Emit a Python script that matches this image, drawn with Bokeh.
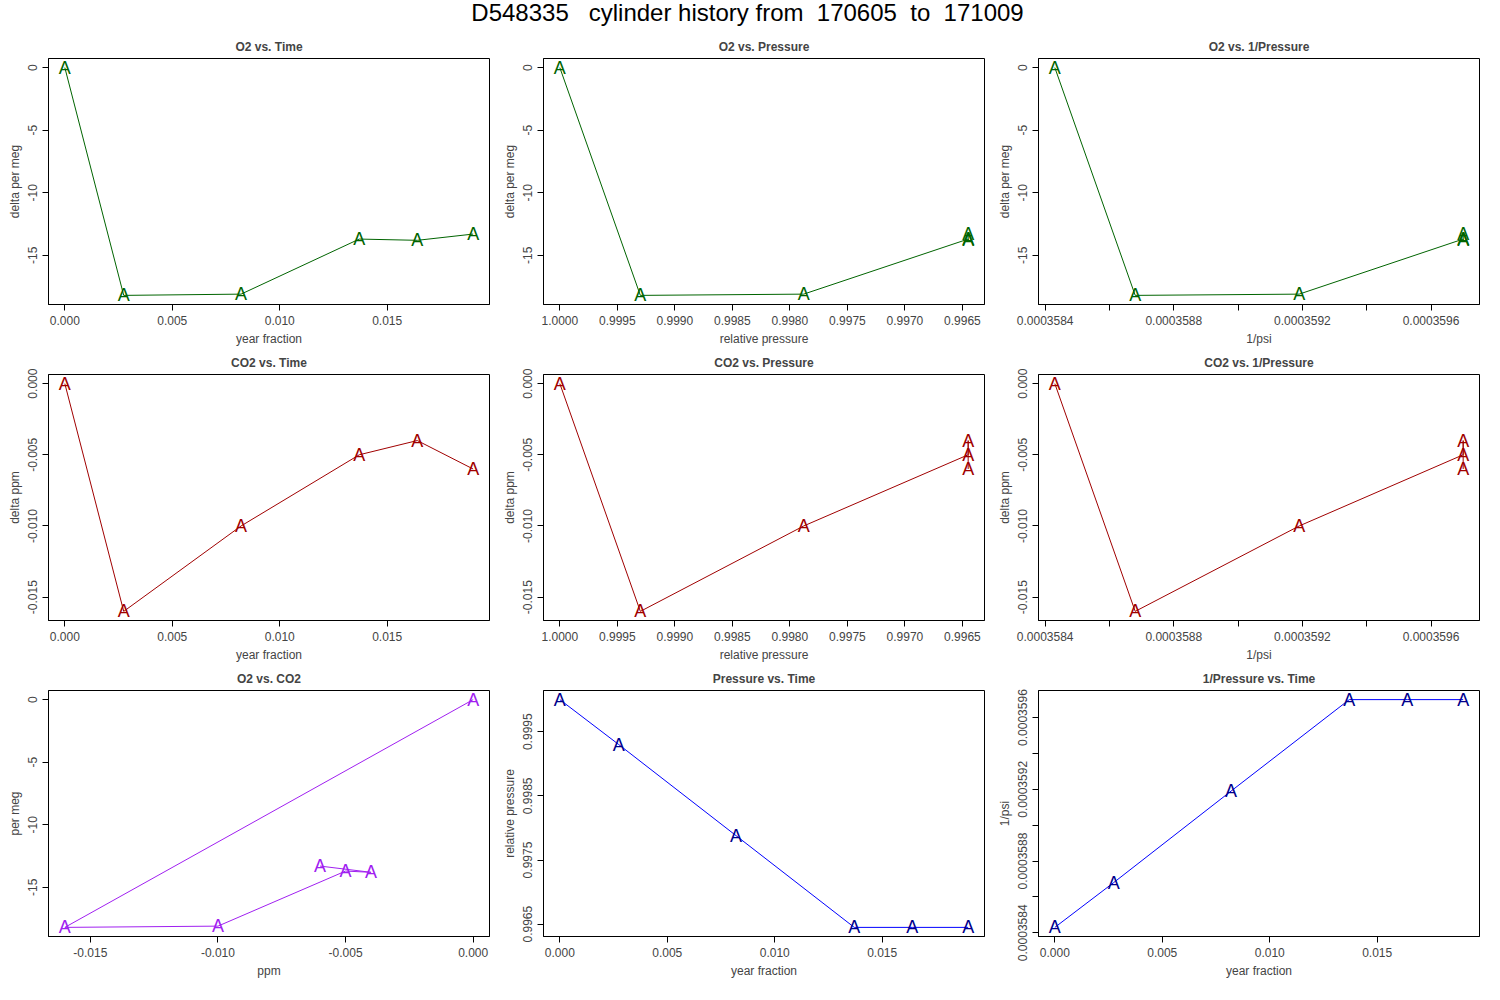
from bokeh.plotting import figure
from bokeh.layouts import column, gridplot
from bokeh.models import Div, Range1d, FixedTicker, PrintfTickFormatter
from bokeh.embed import file_html
from bokeh.resources import INLINE
from bokeh.core.properties import value

time = [0.0, 0.00274, 0.0082, 0.0137, 0.0164, 0.0190]
o2 = [0.0, -18.2, -18.1, -13.7, -13.8, -13.3]
co2 = [0.0, -0.016, -0.010, -0.005, -0.004, -0.006]
pres = [1.0, 0.9993, 0.99788, 0.99645, 0.99645, 0.99645]
invp = [0.00035843, 0.00035868, 0.00035919, 0.00035970, 0.00035970, 0.00035970]

t_ticks = [0.0, 0.005, 0.010, 0.015]
o2_ticks = [0, -5, -10, -15]
co2_ticks = [0.0, -0.005, -0.010, -0.015]
p_ticks = [1.0, 0.9995, 0.999, 0.9985, 0.998, 0.9975, 0.997, 0.9965]
p_ticks_y = [0.9995, 0.9985, 0.9975, 0.9965]
ip_ticks = [0.0003584, 0.0003586, 0.0003588, 0.0003590, 0.0003592, 0.0003594, 0.0003596]

GREEN, RED, PURPLE = "#006400", "#A00000", "#A020F0"
BLUE_T, BLUE_L = "#00008B", "#0000FF"
FONT = "Liberation Sans"

def rng(v, rev=False):
    lo, hi = min(v), max(v)
    pad = (hi - lo) * 0.04
    return Range1d(hi + pad, lo - pad) if rev else Range1d(lo - pad, hi + pad)

def panel(title, x, y, xl, yl, xt, yt, xf, yf, lc, tc, xrev=False, xover=None, yover=None):
    p = figure(width=495, height=316, output_backend="svg", toolbar_location=None,
               x_range=rng(x, xrev), y_range=rng(y), min_border_left=48, min_border_right=6,
               min_border_top=26, min_border_bottom=44)
    p.title.text = title
    p.title.align = "center"
    p.title.text_font = FONT
    p.title.text_font_size = "12px"
    p.title.text_font_style = "bold"
    p.grid.visible = False
    p.outline_line_color = "black"
    p.line(x, y, color=lc, line_width=1)
    p.text(x, y, text=["A"] * len(x), text_color=tc, text_align="center",
           text_baseline="middle", text_font=value(FONT), text_font_size="18px")
    for ax, lab, tk, f, ov in ((p.xaxis[0], xl, xt, xf, xover), (p.yaxis[0], yl, yt, yf, yover)):
        ax.axis_label = lab
        ax.ticker = FixedTicker(ticks=tk)
        ax.formatter = PrintfTickFormatter(format=f)
        if ov:
            ax.major_label_overrides = ov
        ax.minor_tick_line_color = None
        ax.major_tick_in = 0
        ax.major_tick_out = 6
        ax.axis_label_text_font = FONT
        ax.axis_label_text_font_style = "normal"
        ax.axis_label_text_font_size = "12px"
        ax.major_label_text_font = FONT
        ax.major_label_text_font_size = "12px"
        ax.axis_label_standoff = 4
    p.yaxis[0].major_label_orientation = "vertical"
    return p

ipx_over = {0.0003586: "", 0.0003590: "", 0.0003594: ""}

plots = [
    panel("O2 vs. Time", time, o2, "year fraction", "delta per meg", t_ticks, o2_ticks, "%.3f", "%d", GREEN, GREEN),
    panel("O2 vs. Pressure", pres, o2, "relative pressure", "delta per meg", p_ticks, o2_ticks, "%.4f", "%d", GREEN, GREEN, xrev=True),
    panel("O2 vs. 1/Pressure", invp, o2, "1/psi", "delta per meg", ip_ticks, o2_ticks, "%.7f", "%d", GREEN, GREEN, xover=ipx_over),
    panel("CO2 vs. Time", time, co2, "year fraction", "delta ppm", t_ticks, co2_ticks, "%.3f", "%.3f", RED, RED),
    panel("CO2 vs. Pressure", pres, co2, "relative pressure", "delta ppm", p_ticks, co2_ticks, "%.4f", "%.3f", RED, RED, xrev=True),
    panel("CO2 vs. 1/Pressure", invp, co2, "1/psi", "delta ppm", ip_ticks, co2_ticks, "%.7f", "%.3f", RED, RED, xover=ipx_over),
    panel("O2 vs. CO2", co2, o2, "ppm", "per meg", co2_ticks, o2_ticks, "%.3f", "%d", PURPLE, PURPLE),
    panel("Pressure vs. Time", time, pres, "year fraction", "relative pressure", t_ticks, p_ticks_y, "%.3f", "%.4f", BLUE_L, BLUE_T),
    panel("1/Pressure vs. Time", time, invp, "year fraction", "1/psi", t_ticks, ip_ticks, "%.3f", "%.7f", BLUE_L, BLUE_T,
          yover=ipx_over),
]

title = Div(text="D548335&nbsp;&nbsp;&nbsp;cylinder history from&nbsp;&nbsp;170605&nbsp;&nbsp;to&nbsp;&nbsp;171009",
            width=1485, height=22,
            styles={"font-family": FONT, "font-size": "24px", "text-align": "center",
                    "width": "1485px", "line-height": "16px"})
grid = gridplot(plots, ncols=3, toolbar_location=None)
layout = column(title, grid, spacing=0)
open("out.html", "w").write(file_html(layout, INLINE))
